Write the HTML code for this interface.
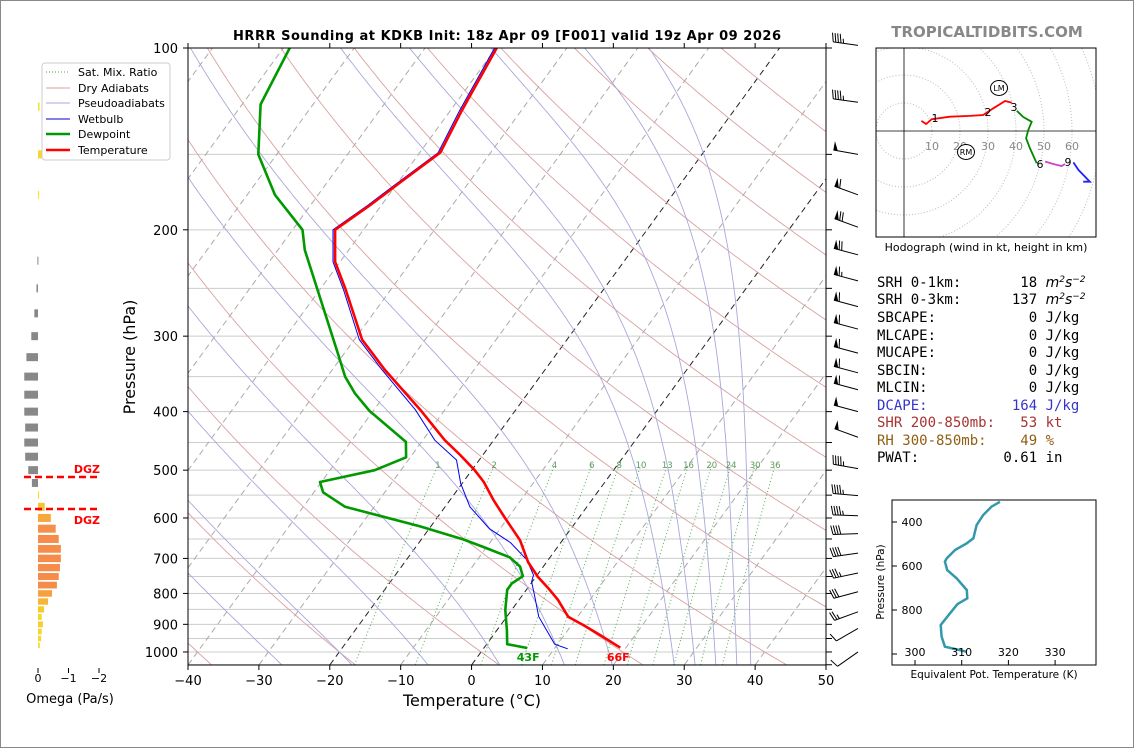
<!DOCTYPE html>
<html><head><meta charset="utf-8"><style>
html,body{margin:0;padding:0;background:#fff;}
svg{display:block;font-family:"DejaVu Sans","Liberation Sans",sans-serif;}
</style></head><body>
<svg id="root" width="1134" height="748" viewBox="0 0 1134 748" xmlns="http://www.w3.org/2000/svg">
<rect x="0.5" y="0.5" width="1133" height="747" fill="#fff" stroke="#888"/>
<defs><clipPath id="mainclip"><rect x="188" y="48" width="638" height="617"/></clipPath>
<clipPath id="hodoclip"><rect x="876" y="48" width="220" height="189"/></clipPath>
<clipPath id="teclip"><rect x="892" y="500" width="204" height="165"/></clipPath></defs>
<g id="bg" clip-path="url(#mainclip)"></g>
<g id="prof" clip-path="url(#mainclip)"></g>
<g id="axes"></g>
<g id="barbs"></g>
<g id="omega"></g>
<g id="hodo"></g>
<g id="te"></g>
<text x="507" y="40" text-anchor="middle" font-size="13" font-weight="bold" textLength="548">HRRR Sounding at KDKB Init: 18z Apr 09 [F001] valid 19z Apr 09 2026</text>
<text x="987" y="37" text-anchor="middle" font-size="15" font-weight="bold" fill="#888">TROPICALTIDBITS.COM</text>
<g>
<rect x="42" y="63" width="128" height="97" rx="3" fill="#fff" stroke="#ccc"/>
<line x1="46" y1="72" x2="70" y2="72" stroke="#4a4" stroke-dasharray="1,2"/>
<text x="78" y="76" font-size="11">Sat. Mix. Ratio</text>
<line x1="46" y1="88" x2="70" y2="88" stroke="#d9a0a0"/>
<text x="78" y="92" font-size="11">Dry Adiabats</text>
<line x1="46" y1="103" x2="70" y2="103" stroke="#a8a8dc"/>
<text x="78" y="107" font-size="11">Pseudoadiabats</text>
<line x1="46" y1="119" x2="70" y2="119" stroke="#00c"/>
<text x="78" y="123" font-size="11">Wetbulb</text>
<line x1="46" y1="134" x2="70" y2="134" stroke="#009900" stroke-width="2.5"/>
<text x="78" y="138" font-size="11">Dewpoint</text>
<line x1="46" y1="150" x2="70" y2="150" stroke="#f00" stroke-width="2.5"/>
<text x="78" y="154" font-size="11">Temperature</text>
</g>
<g font-family="'DejaVu Sans Mono','Liberation Mono',monospace" font-size="14">
<text x="877" y="287" xml:space="preserve">SRH 0-1km:       18 <tspan font-style="italic" font-family="DejaVu Sans">m<tspan font-size="9" dy="-5">2</tspan><tspan dy="5">s</tspan><tspan font-size="9" dy="-5">−2</tspan></tspan></text>
<text x="877" y="304" xml:space="preserve">SRH 0-3km:      137 <tspan font-style="italic" font-family="DejaVu Sans">m<tspan font-size="9" dy="-5">2</tspan><tspan dy="5">s</tspan><tspan font-size="9" dy="-5">−2</tspan></tspan></text>
<text x="877" y="322" xml:space="preserve">SBCAPE:           0 J/kg</text>
<text x="877" y="340" xml:space="preserve">MLCAPE:           0 J/kg</text>
<text x="877" y="357" xml:space="preserve">MUCAPE:           0 J/kg</text>
<text x="877" y="375" xml:space="preserve">SBCIN:            0 J/kg</text>
<text x="877" y="392" xml:space="preserve">MLCIN:            0 J/kg</text>
<text x="877" y="410" xml:space="preserve" fill="#3535cc">DCAPE:          164 J/kg</text>
<text x="877" y="427" xml:space="preserve" fill="#a83232">SHR 200-850mb:   53 kt</text>
<text x="877" y="445" xml:space="preserve" fill="#8f5f14">RH 300-850mb:    49 %</text>
<text x="877" y="462" xml:space="preserve">PWAT:          0.61 in</text>
</g>
</svg>
<script>
// ---------- data ----------
const tempP = [984,937,902,875,820,784,751,710,653,600,560,523,500,472,446,397,341,304,251,226,200,182,167,149,127,100];
const tempT = [19.2,15.0,11.6,8.7,5.5,2.9,0.3,-2.6,-6.0,-10.4,-13.9,-17.1,-19.6,-23.2,-26.9,-33.5,-42.6,-48.9,-56.4,-60.7,-64,-61.6,-59.7,-57.1,-58.4,-59.9];
const dewP = [985,971,920,852,789,770,749,722,697,669,651,619,575,544,523,500,476,449,399,373,350,322,216,200,175,150,124,100];
const dewT = [6.1,2.9,1.4,-0.9,-2.7,-2.7,-1.9,-3.3,-5.7,-10.7,-14.1,-21.6,-34.1,-38.7,-40.2,-33.7,-30.6,-32.2,-40.5,-44.4,-47.5,-50.7,-66.2,-68.6,-76.1,-82.6,-87.4,-89.1];
const wbP = [988,971,874,810,765,746,704,659,625,575,526,481,446,397,341,304,251,226,200,182,167,149,127,100];
const wbT = [11.9,9.6,4.5,1.9,-0.1,-0.5,-3,-7.1,-11.5,-16.5,-20.2,-23.2,-28.3,-34.2,-43,-49.3,-56.7,-61,-64.3,-61.9,-60,-57.4,-58.7,-60.2];
const mixRatios = [1,2,4,6,8,10,13,16,20,24,30,36];
const moistStartT = [-30,-20,-9,1.5,11,18,27,30,33,36,38];
const dryThetaC = [-100,-80,-60,-40,-20,0,20,40,60,80,100,120,140,160,180,200];
const isotherms = [-110,-100,-90,-80,-70,-60,-50,-40,-30,-20,-10,0,10,20,30,40,50];
const tempTicks = [-40,-30,-20,-10,0,10,20,30,40,50];
const presTicks = [100,200,300,400,500,600,700,800,900,1000];
const presGrid = [150,200,250,300,350,400,450,500,550,600,650,700,750,800,850,900,950,1000,1050];
const barbP = [99,123,150,175,198,220,243,268,292,320,345,368,400,441,497,551,595,637,686,740,795,858,914,1000];
const barbSpd = [45,45,50,60,70,70,65,60,60,60,60,60,50,50,45,45,45,40,40,35,30,25,10,10];
const barbDir = [278,278,280,290,290,285,285,285,285,285,285,285,285,290,280,275,272,268,262,258,255,250,240,235];
const omegaP = [125,150,175,225,250,275,300,325,350,375,400,425,450,475,500,525,550,575,600,625,650,675,700,725,750,775,800,825,850,875,900,925,950,975];
const omegaV = [-0.05,-0.12,-0.03,0.02,0.05,0.12,0.22,0.38,0.45,0.45,0.45,0.42,0.45,0.42,0.32,0.2,-0.03,-0.22,-0.42,-0.58,-0.68,-0.75,-0.75,-0.72,-0.68,-0.62,-0.46,-0.33,-0.2,-0.12,-0.16,-0.12,-0.1,-0.06];
const hodoRedU = [6.2,7.9,9.9,16.4,23.6,28.3,31.9,36.1,38.5];
const hodoRedV = [3.6,2.5,4.2,5.1,5.4,5.7,8.1,10.7,10.1];
const hodoGreenU = [40.3,42.6,45.6,44.4,43.6,45,47.4];
const hodoGreenV = [7.2,5,3.3,0.4,-2.6,-6.2,-11.5];
const hodoMagU = [50.4,53.3,56.3,57.5];
const hodoMagV = [-10.9,-11.8,-12.5,-11.8];
const hodoBlueU = [60.5,62.3,66.4,64];
const hodoBlueV = [-11.2,-13.9,-18.1,-18.1];
const teP = [308,330,368,414,474,497,527,565,580,618,656,709,747,773,815,868,921,967,979,990];
const teV = [318.2,316.4,314.6,313.2,312.5,311.1,308.6,306.8,306.4,306.9,308.9,311.1,311.2,309.1,307.5,305.5,305.7,306.4,308.9,311.1];

// ---------- helpers ----------
const NS='http://www.w3.org/2000/svg';
function mk(tag,parent,attrs){const e=document.createElementNS(NS,tag);for(const k in attrs)e.setAttribute(k,attrs[k]);parent.appendChild(e);return e;}
const yP=p=>48+262.3*Math.log(p/100);
const xT=(T,p)=>188+(T+40)*7.089+(665-yP(p))*0.729;
const pts=(Ps,Ts)=>Ps.map((p,i)=>xT(Ts[i],p).toFixed(1)+','+yP(p).toFixed(1)).join(' ');
const bg=document.getElementById('bg'),prof=document.getElementById('prof'),ax=document.getElementById('axes');

presGrid.forEach(p=>{const l=mk('line',bg,{x1:188,x2:826,y1:yP(p),y2:yP(p),stroke:'#ccc','stroke-width':1});

});
isotherms.forEach(T=>{const blk=(T===0||T===-20);const l=mk('line',bg,{x1:xT(T,1050),y1:yP(1050),x2:xT(T,100),y2:yP(100),stroke:blk?'#222':'#aaa','stroke-width':1,'stroke-dasharray':'6,4'});

});
const plevs=[];for(let lp=Math.log(1050);lp>=Math.log(99);lp-=0.02)plevs.push(Math.exp(lp));
dryThetaC.forEach(th=>{const K=th+273.15;const ps=plevs,ts=ps.map(p=>K*Math.pow(p/1000,0.286)-273.15);
const l=mk('polyline',bg,{points:pts(ps,ts),fill:'none',stroke:'#dba0a0','stroke-width':0.9});

});
function es(Tc){return 6.112*Math.exp(17.67*Tc/(Tc+243.5));}
function moist(T0){const Rd=287,Cp=1005,Lv=2.501e6,eps=0.622;
 function rate(T,p){const Tc=T-273.15;const e=es(Tc);const rs=eps*e/(p-e);return (Rd*T+Lv*rs)/(Cp+Lv*Lv*rs*eps/(Rd*T*T));}
 let T=T0+273.15,lp=Math.log(1000);const up=[[1000,T]];
 while(lp>Math.log(100)){const h=-0.01;const p=Math.exp(lp);T+=rate(T,p)*h;lp+=h;up.push([Math.exp(lp),T]);}
 T=T0+273.15;lp=Math.log(1000);const dn=[];
 while(lp<Math.log(1055)){const h=0.01;const p=Math.exp(lp);T+=rate(T,p)*h;lp+=h;dn.unshift([Math.exp(lp),T]);}
 return dn.concat(up);}
moistStartT.forEach(t0=>{const a=moist(t0);const l=mk('polyline',bg,{points:pts(a.map(v=>v[0]),a.map(v=>v[1]-273.15)),fill:'none',stroke:'#a8a8dc','stroke-width':0.9});

});
mixRatios.forEach(w=>{const ps=[],ts=[];for(let p=1050;p>=490;p-=10){const e=w*p/(622+w);const L=Math.log(e/6.112);ps.push(p);ts.push(243.5*L/(17.67-L));}
const l=mk('polyline',bg,{points:pts(ps,ts),fill:'none',stroke:'#5a5','stroke-width':1,'stroke-dasharray':'1,2.5'});


const t=mk('text',bg,{x:xT(ts[ts.length-1],490),y:yP(490)+3,'font-size':8.5,fill:'#5a9a5a','text-anchor':'middle'});t.textContent=w;

});

let l=mk('polyline',prof,{points:pts(dewP,dewT),fill:'none',stroke:'#009900','stroke-width':2.6,'stroke-linejoin':'round'});


l=mk('polyline',prof,{points:pts(wbP,wbT),fill:'none',stroke:'#0000ee','stroke-width':1});


l=mk('polyline',prof,{points:pts(tempP,tempT),fill:'none',stroke:'#ff0000','stroke-width':2.6,'stroke-linejoin':'round'});


let t=mk('text',prof,{x:xT(dewT[0],dewP[0])+1,y:661,'font-size':11,'font-weight':'bold',fill:'#009900','text-anchor':'middle'});t.textContent='43F';


t=mk('text',prof,{x:xT(tempT[0],tempP[0])-2,y:661,'font-size':11,'font-weight':'bold',fill:'#ff0000','text-anchor':'middle'});t.textContent='66F';



const fr=mk('rect',ax,{x:188,y:48,width:638,height:617,fill:'none',stroke:'#000','stroke-width':1});


tempTicks.forEach(T=>{const x=188+(T+40)*7.089;
mk('line',ax,{x1:x,x2:x,y1:665,y2:670,stroke:'#000'});mk('line',ax,{x1:x,x2:x,y1:48,y2:43,stroke:'#000'});
const tx=mk('text',ax,{x:x,y:685,'font-size':13,'text-anchor':'middle'});tx.textContent=(T<0?'−':'')+Math.abs(T);

});
presTicks.forEach(p=>{const y=yP(p);mk('line',ax,{x1:183,x2:188,y1:y,y2:y,stroke:'#000'});
const tx=mk('text',ax,{x:178,y:y+5,'font-size':13,'text-anchor':'end'});tx.textContent=p;

});
[100].concat(presGrid).forEach(p=>{const y=yP(p);mk('line',ax,{x1:826,x2:832,y1:y,y2:y,stroke:'#000'});});
t=mk('text',ax,{x:472,y:706,'font-size':16,'text-anchor':'middle'});t.textContent='Temperature (°C)';


t=mk('text',ax,{x:135,y:357,'font-size':16,'text-anchor':'middle',transform:'rotate(-90 135 357)'});t.textContent='Pressure (hPa)';



const bgp=document.getElementById('barbs');
barbP.forEach((p,i)=>{const g=mk('g',bgp,{});


const bx=858,by=yP(p);const r=barbDir[i]*Math.PI/180;const dx=Math.sin(r),dy=-Math.cos(r);const px=-dy,py=dx;const L=25;
const tx=bx+dx*L,ty=by+dy*L;mk('line',g,{x1:bx,y1:by,x2:tx,y2:ty,stroke:'#000','stroke-width':1});
let s=barbSpd[i]+2.5;let pos=0;const gap=2.6;
while(s>=50){const a=[tx-dx*pos,ty-dy*pos],b=[tx-dx*(pos+4.5),ty-dy*(pos+4.5)],c=[tx-dx*pos+px*9,ty-dy*pos+py*9];
mk('polygon',g,{points:a.join(',')+' '+c.join(',')+' '+b.join(','),fill:'#000'});pos+=5.5;s-=50;}
while(s>=10){const a=[tx-dx*pos,ty-dy*pos];mk('line',g,{x1:a[0],y1:a[1],x2:a[0]+px*9+dx*2,y2:a[1]+py*9+dy*2,stroke:'#000','stroke-width':1});pos+=gap;s-=10;}
if(s>=5){if(pos===0)pos=gap;const a=[tx-dx*pos,ty-dy*pos];mk('line',g,{x1:a[0],y1:a[1],x2:a[0]+px*4.5+dx,y2:a[1]+py*4.5+dy,stroke:'#000','stroke-width':1});}
});

const og=document.getElementById('omega');const ox=38,os=30.5;
function ocol(v){if(v>0)return '#888';const f=Math.min(1,-v/0.6);const c1=[247,232,30],c2=[245,140,74];return 'rgb('+c1.map((c,k)=>Math.round(c+(c2[k]-c)*f)).join(',')+')';}
omegaP.forEach((p,i)=>{const sp=yP(p+12.5)-yP(p-12.5);const h=Math.min(sp*0.8,8);const yc=yP(p);const v=omegaV[i];const w=Math.abs(v)*os;
const r=mk('rect',og,{x:v>0?ox-w:ox,y:yc-h/2,width:Math.max(w,1),height:h,fill:ocol(v)});

});
[0,-1,-2].forEach(v=>{const x=ox-v*os;mk('line',og,{x1:x,x2:x,y1:668,y2:673,stroke:'#000'});
const tx=mk('text',og,{x:x,y:682,'font-size':11,'text-anchor':'middle'});tx.textContent=v===0?'0':'−'+(-v);

});
t=mk('text',og,{x:70,y:703,'font-size':13,'text-anchor':'middle'});t.textContent='Omega (Pa/s)';


[477,509].forEach((y,k)=>{const d=mk('line',og,{x1:24,x2:99,y1:y,y2:y,stroke:'#f00','stroke-width':2.6,'stroke-dasharray':'7,4'});


const tx=mk('text',og,{x:100,y:k===0?473:524,'font-size':11,'font-weight':'bold',fill:'#f00','text-anchor':'end'});tx.textContent='DGZ';

});

const hg=document.getElementById('hodo');const hx=904,hy=131,hs=2.8;
const hin=mk('g',hg,{'clip-path':'url(#hodoclip)'});
[10,20,30,40,50,60,70,80].forEach(r=>{const c=mk('circle',hin,{cx:hx,cy:hy,r:r*hs,fill:'none',stroke:'#bbb','stroke-dasharray':'1,2'});

});
mk('line',hin,{x1:876,x2:1096,y1:hy,y2:hy,stroke:'#000','stroke-width':0.8});
mk('line',hin,{x1:hx,x2:hx,y1:48,y2:237,stroke:'#000','stroke-width':0.8});
[10,20,30,40,50,60].forEach(r=>{const tx=mk('text',hin,{x:hx+r*hs,y:hy+19,'font-size':11,fill:'#888','text-anchor':'middle'});tx.textContent=r;

});
function hline(U,V,col,name){const l=mk('polyline',hin,{points:U.map((u,i)=>(hx+u*hs).toFixed(1)+','+(hy-V[i]*hs).toFixed(1)).join(' '),fill:'none',stroke:col,'stroke-width':1.8});

}
hline(hodoRedU,hodoRedV,'#f00','hodograph-0-3km');
hline(hodoGreenU,hodoGreenV,'#080','hodograph-3-6km');
hline(hodoMagU,hodoMagV,'#c4c','hodograph-6-9km');
hline(hodoBlueU,hodoBlueV,'#22f','hodograph-9-12km');
[['1',935,122],['2',988,116],['3',1014,111],['6',1040,168],['9',1068,166]].forEach(a=>{const tx=mk('text',hin,{x:a[1],y:a[2],'font-size':11,'text-anchor':'middle'});tx.textContent=a[0];

});
[['LM',999,88],['RM',966,152]].forEach(a=>{mk('ellipse',hin,{cx:a[1],cy:a[2],rx:8.5,ry:7.5,fill:'#fff',stroke:'#000'});
const tx=mk('text',hin,{x:a[1],y:a[2]+3,'font-size':8,'text-anchor':'middle'});tx.textContent=a[0];

});
mk('rect',hg,{x:876,y:48,width:220,height:189,fill:'none',stroke:'#000'});
t=mk('text',hg,{x:986,y:251,'font-size':11,'text-anchor':'middle'});t.textContent='Hodograph (wind in kt, height in km)';



const tg=document.getElementById('te');const teX=v=>915+(v-300)*4.67,teY=p=>434+p*0.22;
const tin=mk('g',tg,{'clip-path':'url(#teclip)'});
l=mk('polyline',tin,{points:teP.map((p,i)=>teX(teV[i]).toFixed(1)+','+teY(p).toFixed(1)).join(' '),fill:'none',stroke:'#3399aa','stroke-width':2.5});


mk('rect',tg,{x:892,y:500,width:204,height:165,fill:'none',stroke:'#000'});
[400,600,800,1000].forEach(p=>{const y=teY(p);mk('line',tg,{x1:892,x2:897,y1:y,y2:y,stroke:'#000'});
if(p!==1000){const tx=mk('text',tg,{x:912,y:y+4,'font-size':11,'text-anchor':'middle'});tx.textContent=p;

}});
[300,310,320,330].forEach(v=>{const x=teX(v);mk('line',tg,{x1:x,x2:x,y1:665,y2:660,stroke:'#000'});
const tx=mk('text',tg,{x:x,y:656,'font-size':11,'text-anchor':'middle'});tx.textContent=v;

});
t=mk('text',tg,{x:994,y:678,'font-size':10.5,'text-anchor':'middle'});t.textContent='Equivalent Pot. Temperature (K)';


t=mk('text',tg,{x:884,y:582,'font-size':10.5,'text-anchor':'middle',transform:'rotate(-90 884 582)'});t.textContent='Pressure (hPa)';


</script>
</body></html>
